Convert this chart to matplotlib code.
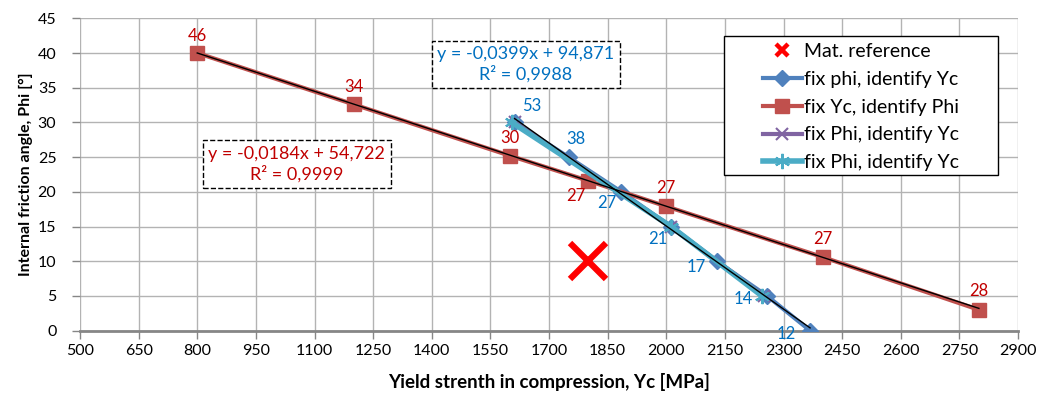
import numpy as np
import matplotlib.pyplot as plt
from matplotlib.lines import Line2D
from matplotlib.patches import Rectangle

plt.rcParams['font.family'] = ['Lato', 'DejaVu Sans']

# fix Yc, identify Phi
yc_fix = [800, 1200, 1600, 1800, 2000, 2400, 2800]
phi_ident = [40.0, 32.6, 25.2, 21.6, 17.9, 10.6, 3.0]
lab_red = ['46', '34', '30', '27', '27', '27', '28']

# fix phi, identify Yc
yc_ident = [1612, 1750, 1885, 2012, 2129, 2258, 2368]
phi_fix = [30, 25, 20, 15, 10, 5, 0]
lab_blue = ['53', '38', '27', '21', '17', '14', '12']

# extra "fix Phi, identify Yc" runs
yc_x = [1612, 2012, 2250]
phi_x = [30, 15, 5]
yc_star = [1605, 2012, 2245]
phi_star = [30, 15, 5]

mat_ref = (1800, 10)

# trendline coefficients
red_fit = (-0.0184, 54.722)
blue_fit = (-0.0399, 94.871)

fig = plt.figure(figsize=(10.44, 4.01), dpi=100)
ax = fig.add_axes([80/1044, 1-330.6/401, (1018-80)/1044, (330.6-18.3)/401])

c_blue = '#4F81BD'
c_red = '#C0504D'
c_purple = '#8064A2'
c_cyan = '#4BACC6'
t_red = '#C00000'
t_blue = '#0070C0'

ax.plot(*mat_ref, 'x', color='#FF0000', ms=26, mew=4.5, ls='none', zorder=6)
ax.plot(yc_ident, phi_fix, color=c_blue, lw=3, marker='D', ms=8, zorder=3)
ax.plot(yc_fix, phi_ident, color=c_red, lw=3, marker='s', ms=10, zorder=3)
ax.plot(yc_x, phi_x, color=c_purple, lw=3, marker='x', ms=9, mew=1.5, zorder=4)
ax.plot(yc_star, phi_star, color=c_cyan, lw=4, marker=(6, 2, 0), ms=11, mew=1.5, zorder=4)

# black trendlines
xr = np.array([min(yc_fix), max(yc_fix)])
ax.plot(xr, red_fit[0]*xr + red_fit[1], color='black', lw=1, zorder=5)
xb = np.array([min(yc_ident), max(yc_ident)])
ax.plot(xb, blue_fit[0]*xb + blue_fit[1], color='black', lw=1, zorder=5)

# data labels
red_off = [(0, 17), (0, 17), (0, 18), (-12, -15), (0, 18), (0, 18), (0, 19)]
for x, y, t, o in zip(yc_fix, phi_ident, lab_red, red_off):
    ax.annotate(t, (x, y), xytext=o, textcoords='offset pixels', ha='center', va='center',
                color=t_red, fontsize=12, zorder=7)
blue_off = [(17, 16), (7, 18), (-14, -11), (-13, -12), (-20, -6), (-24, -3), (-24, -3)]
for x, y, t, o in zip(yc_ident, phi_fix, lab_blue, blue_off):
    ax.annotate(t, (x, y), xytext=o, textcoords='offset pixels', ha='center', va='center',
                color=t_blue, fontsize=12, zorder=7)

# trendline equations
ax.text(1055, 24.0, 'y = -0,0184x + 54,722\nR² = 0,9999', color=t_red, fontsize=13,
        ha='center', va='center', linespacing=1.2, zorder=8,
        bbox=dict(boxstyle='square,pad=0.3', fc='white', ec='black', ls='--', lw=1))
ax.text(1641, 38.4, 'y = -0,0399x + 94,871\nR² = 0,9988', color=t_blue, fontsize=13,
        ha='center', va='center', linespacing=1.2, zorder=8,
        bbox=dict(boxstyle='square,pad=0.3', fc='white', ec='black', ls='--', lw=1))

ax.set_xlim(500, 2900)
ax.set_ylim(0, 45)
ax.set_xticks(np.arange(500, 2901, 150))
ax.set_yticks(np.arange(0, 46, 5))
ax.grid(True, color='#b3b3b3', lw=1)
ax.set_axisbelow(True)
for s in ['top', 'right', 'left']:
    ax.spines[s].set_visible(False)
ax.spines['bottom'].set_color('#868686')
ax.spines['bottom'].set_linewidth(2)
ax.tick_params(axis='both', colors='#868686', labelcolor='black', labelsize=11.5, length=6, width=1)
ax.tick_params(axis='y', pad=11)

ax.set_xlabel('Yield strenth in compression, Yc [MPa]', fontsize=13.5, fontweight='bold', labelpad=11)
ax.set_ylabel('Internal friction angle, Phi [°]', fontsize=11.5, fontweight='bold', labelpad=3)

# legend: frame drawn by hand, entries placed inside
ax.add_patch(Rectangle((0.687, 0.498), 0.292, 0.445, transform=ax.transAxes,
                       fc='white', ec='black', lw=1, zorder=9))
handles = [
    Line2D([], [], color='#FF0000', marker='x', ms=9, mew=3.2, ls='none'),
    Line2D([], [], color=c_blue, lw=3, marker='D', ms=8),
    Line2D([], [], color=c_red, lw=3, marker='s', ms=10),
    Line2D([], [], color=c_purple, lw=3, marker='x', ms=9, mew=1.5),
    Line2D([], [], color=c_cyan, lw=4, marker=(6, 2, 0), ms=11, mew=1.5),
]
labels = ['Mat. reference', 'fix phi, identify Yc', 'fix Yc, identify Phi',
          'fix Phi, identify Yc', 'fix Phi, identify Yc']
leg = ax.legend(handles, labels, loc='upper left', bbox_to_anchor=(0.728, 0.92),
                fontsize=14, frameon=False, borderpad=0, borderaxespad=0,
                handlelength=2.0, handletextpad=0.1, labelspacing=0.55)
leg.set_zorder(10)

fig.savefig('out.png', dpi=100)
